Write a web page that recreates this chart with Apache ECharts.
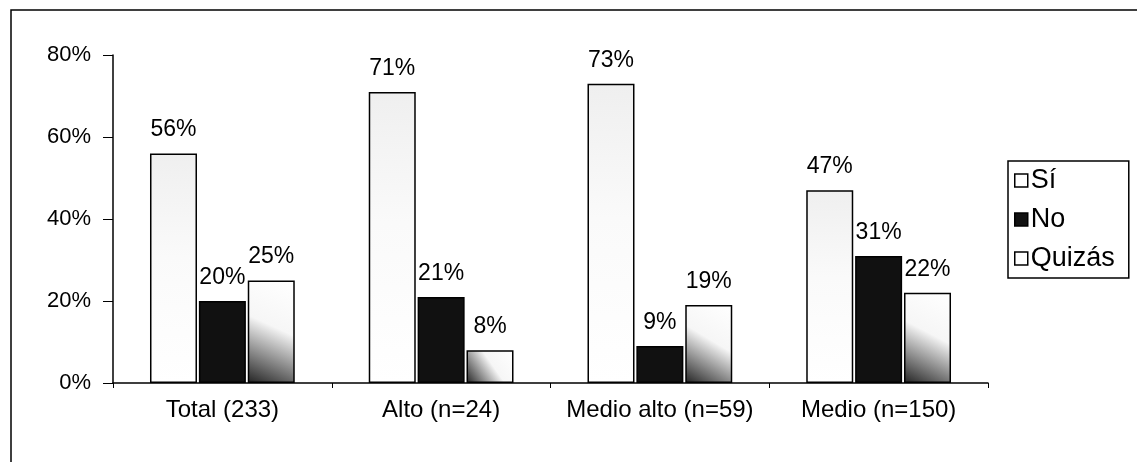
<!DOCTYPE html>
<html><head><meta charset="utf-8">
<script src="https://cdn.jsdelivr.net/npm/echarts@6/dist/echarts.min.js"></script>
<style>html,body{margin:0;padding:0;background:#fff}#c{width:1137px;height:462px}</style>
</head><body><div id="c"></div>
<script>
const categories = ['Total (233)', 'Alto (n=24)', 'Medio alto (n=59)', 'Medio (n=150)'];
const si = [56, 71, 73, 47];
const no = [20, 21, 9, 31];
const quizas = [25, 8, 19, 22];
const yTicks = [0, 20, 40, 60, 80];
const FONT = 'Liberation Sans';

const chart = echarts.init(document.getElementById('c'));
const lbl = {show: true, position: 'top', distance: 12, color: '#000', fontFamily: FONT, fontSize: 23, formatter: p => p.value + '%'};
const quizasFill = new echarts.graphic.LinearGradient(1, 0, 0, 1, [
  {offset: 0, color: '#ffffff'}, {offset: 0.45, color: '#f6f6f6'}, {offset: 0.78, color: '#777'}, {offset: 1, color: '#222'}]);
const siFill = new echarts.graphic.LinearGradient(0, 0, 0, 1, [
  {offset: 0, color: '#efefef'}, {offset: 0.45, color: '#fafafa'}, {offset: 1, color: '#fff'}]);
chart.setOption({
  animation: false,
  backgroundColor: '#fff',
  textStyle: {fontFamily: FONT},
  grid: {left: 113, right: 149, top: 55, bottom: 79},
  legend: {
    orient: 'vertical', left: 1008, top: 161,
    borderColor: '#000', borderWidth: 1.5, padding: [6, 14, 6, 6],
    itemWidth: 13, itemHeight: 13, itemGap: 12,
    textStyle: {fontFamily: FONT, fontSize: 27, color: '#000', padding: [0, 0, 0, -2]},
    data: [
      {name: 'Sí', icon: 'rect', itemStyle: {color: '#fff', borderColor: '#000', borderWidth: 1.5}},
      {name: 'No', icon: 'rect', itemStyle: {color: '#111', borderColor: '#000', borderWidth: 1.5}},
      {name: 'Quizás', icon: 'rect', itemStyle: {color: '#fff', borderColor: '#000', borderWidth: 1.5}}
    ]
  },
  xAxis: {
    type: 'category', data: categories,
    axisLine: {lineStyle: {color: '#000', width: 1.5}},
    axisTick: {show: true, length: 5, lineStyle: {color: '#000'}},
    axisLabel: {color: '#000', fontFamily: FONT, fontSize: 24, margin: 15, interval: 0}
  },
  yAxis: {
    type: 'value', min: 0, max: 80, interval: 20,
    axisLine: {show: true, lineStyle: {color: '#000', width: 1.5}},
    axisTick: {show: true, length: 10, lineStyle: {color: '#000'}},
    splitLine: {show: false},
    axisLabel: {color: '#000', fontFamily: FONT, fontSize: 22, margin: 22,
      formatter: v => yTicks.includes(v) ? v + '%' : ''}
  },
  series: [
    {name: 'Sí', type: 'bar', data: si, barWidth: 47, barGap: '4%',
     itemStyle: {color: siFill, borderColor: '#000', borderWidth: 1.5}, label: lbl},
    {name: 'No', type: 'bar', data: no, barWidth: 47,
     itemStyle: {color: '#111', borderColor: '#000', borderWidth: 1.5}, label: lbl},
    {name: 'Quizás', type: 'bar', data: quizas, barWidth: 47,
     itemStyle: {color: quizasFill, borderColor: '#000', borderWidth: 1.5}, label: lbl}
  ],
  graphic: [
    {type: 'polyline', silent: true, shape: {points: [[11, 462], [11, 10], [1137, 10]]},
     style: {stroke: '#000', lineWidth: 1.5, fill: null}}
  ]
});
</script></body></html>
